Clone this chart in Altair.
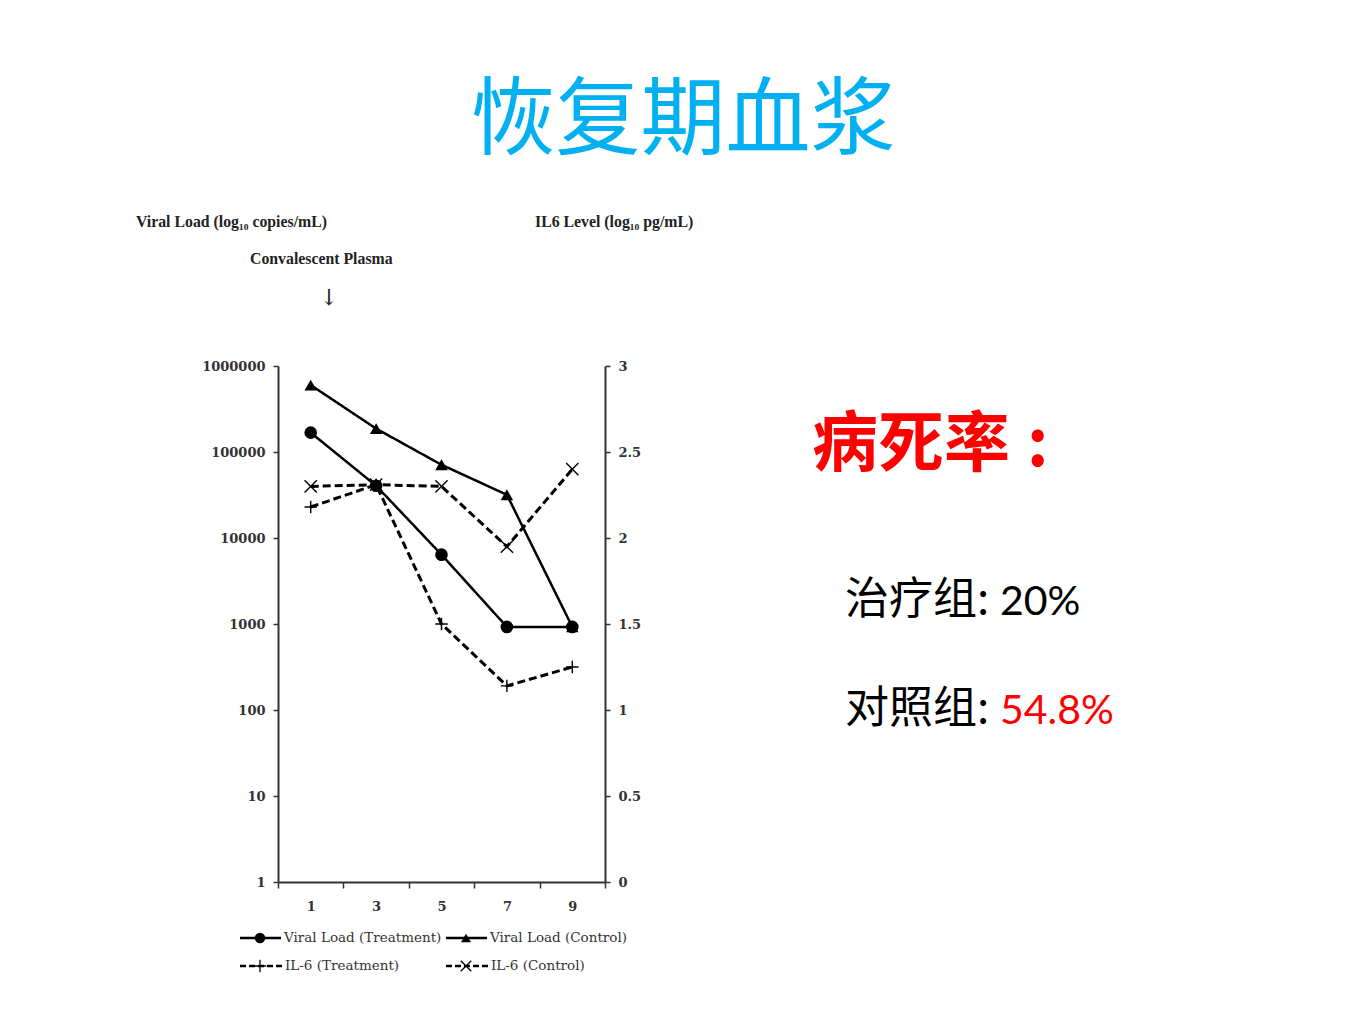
import altair as alt
import pandas as pd

# ---------------- data ----------------
days = [1, 3, 5, 7, 9]
vl_treatment = [168000, 40500, 6400, 925, 925]
vl_control = [600000, 187000, 71000, 31800, 925]
il6_treatment = [2.18, 2.31, 1.50, 1.14, 1.25]
il6_control = [2.30, 2.31, 2.30, 1.95, 2.40]

series_names = ["Viral Load (Treatment)", "Viral Load (Control)",
                "IL-6 (Treatment)", "IL-6 (Control)"]
left_ticks = [1, 10, 100, 1000, 10000, 100000, 1000000]
right_ticks = [0, 0.5, 1, 1.5, 2, 2.5, 3]
x_ticks = [0, 1, 2, 3, 4, 5, 6, 7, 8, 9, 10]

title_text = "恢复期血浆"
left_axis_title = "Viral Load (log₁₀ copies/mL)"
right_axis_title = "IL6 Level (log₁₀ pg/mL)"
event_text = "Convalescent Plasma"
mortality_title = "病死率:"
group_labels = ["治疗组:", "对照组:"]
group_values = ["20%", "54.8%"]

# ---------------- tables ----------------
vl_df = pd.DataFrame({
    "day": days * 2,
    "value": vl_treatment + vl_control,
    "series": [series_names[0]] * 5 + [series_names[1]] * 5,
})
il_df = pd.DataFrame({
    "day": days * 2,
    "value": il6_treatment + il6_control,
    "series": [series_names[2]] * 5 + [series_names[3]] * 5,
})

PLUS = "M-1,0L1,0M0,-1L0,1"
XSYM = "M-1,-1L1,1M-1,1L1,-1"
shape_scale = alt.Scale(domain=series_names,
                        range=["circle", "triangle-up", PLUS, XSYM])
size_scale = alt.Scale(domain=series_names, range=[160, 150, 260, 170])
dash_scale = alt.Scale(domain=series_names,
                       range=[[1, 0], [1, 0], [8, 4], [8, 4]])

AX = "#333333"
x_enc = alt.X("day:Q", scale=alt.Scale(domain=[0, 10], nice=False, zero=False),
              axis=alt.Axis(values=x_ticks, title=None, grid=False,
                            labelExpr="datum.value % 2 == 1 ? datum.label : ''",
                            tickOpacity={"condition": {"test": "datum.value % 2 == 0", "value": 1}, "value": 0},
                            tickSize=6, labelPadding=12))

y_left = alt.Y("value:Q",
               scale=alt.Scale(type="log", domain=[1, 1000000], nice=False),
               axis=alt.Axis(orient="left", values=left_ticks, format="d",
                             title=None, grid=False, tickSize=5, labelPadding=8))
y_right = alt.Y("value:Q",
                scale=alt.Scale(domain=[0, 3], nice=False, zero=True),
                axis=alt.Axis(orient="right", values=right_ticks, format="~g",
                              title=None, grid=False, tickSize=5, labelPadding=8))

vl_base = alt.Chart(vl_df).encode(
    x=x_enc, y=y_left,
    detail="series:N",
)
vl_line = vl_base.mark_line(color="black", strokeWidth=2.5).encode(
    strokeDash=alt.StrokeDash("series:N", scale=dash_scale, legend=None))
vl_pts = vl_base.mark_point(filled=True, color="black", opacity=1).encode(
    shape=alt.Shape("series:N", scale=shape_scale, legend=None),
    size=alt.Size("series:N", scale=size_scale, legend=None))

il_base = alt.Chart(il_df).encode(
    x=x_enc, y=y_right,
    detail="series:N",
)
il_line = il_base.mark_line(color="black", strokeWidth=3).encode(
    strokeDash=alt.StrokeDash("series:N", scale=dash_scale, legend=None))
il_pts = il_base.mark_point(filled=False, color="black", strokeWidth=1.4, opacity=1).encode(
    shape=alt.Shape("series:N", scale=shape_scale, legend=None),
    size=alt.Size("series:N", scale=size_scale, legend=None))

plot = alt.layer(alt.layer(vl_line, vl_pts), alt.layer(il_line, il_pts)).resolve_scale(y="independent")

one = pd.DataFrame({"k": [0]})


def txt(s, x, y, size, font, color="black", weight="normal", align="left"):
    return alt.Chart(pd.DataFrame({"t": [s]})).mark_text(
        align=align, baseline="middle", fontSize=size, font=font,
        color=color, fontWeight=weight
    ).encode(x=alt.value(x), y=alt.value(y), text="t:N")


SERIF = "Liberation Serif"
DSERIF = "DejaVu Serif"
CJK = "Noto Sans CJK SC"
texts = [
    txt(title_text, 405, -244, 85, CJK, color="#00B0F0", align="center"),
    txt(left_axis_title, -142, -144, 15.8, SERIF, color="#222222", weight="bold"),
    txt(right_axis_title, 257, -144, 15.8, SERIF, color="#222222", weight="bold"),
    txt(event_text, -28, -107, 15.8, SERIF, color="#222222", weight="bold"),
    txt("↓", 51, -68, 22, DSERIF, color="#222222", align="center"),
    txt(mortality_title[:-1], 534, 80, 66, CJK, color="#FF0000", weight="bold"),
    txt(mortality_title[-1], 749, 80, 66, CJK, color="#FF0000", weight="bold"),
    txt(group_labels[0], 567, 235, 44, CJK, color="black"),
    txt(group_values[0], 722, 237, 41, "Lato", color="black"),
    txt(group_labels[1], 567, 344, 44, CJK, color="black"),
    txt(group_values[1], 722, 346, 41, "Lato", color="#FF0000"),
]

# manual legend
legend_spec = [
    (series_names[0], -38, 3, -18, 572, "circle", True, 110, [1, 0]),
    (series_names[1], 168, 209, 188, 572, "triangle-up", True, 100, [1, 0]),
    (series_names[2], -38, 4, -18, 600, PLUS, False, 160, [6, 3]),
    (series_names[3], 168, 210, 188, 600, XSYM, False, 110, [6, 3]),
]
legend_layers = []
for name, xa, xb, xm, yy, shp, fil, sz, dash in legend_spec:
    legend_layers.append(
        alt.Chart(one).mark_rule(color="black", strokeWidth=2.5, strokeDash=dash)
        .encode(x=alt.value(xa), x2=alt.value(xb), y=alt.value(yy)))
    legend_layers.append(
        alt.Chart(one).mark_point(shape=shp, filled=fil, size=sz, color="black",
                                  strokeWidth=1.3, opacity=1)
        .encode(x=alt.value(xm), y=alt.value(yy)))
    legend_layers.append(txt(name, xb + 3, yy, 13.5, DSERIF, color="#333333"))

chart = alt.layer(plot, *texts, *legend_layers).properties(
    width=327, height=516,
    autosize=alt.AutoSizeParams(type="none"),
    padding={"left": 270, "top": 358, "right": 740, "bottom": 120},
    background="white",
).configure_view(stroke=None).configure_axis(
    domainColor=AX, domainWidth=2, tickColor=AX, tickWidth=1.5,
    labelFont=DSERIF, labelFontWeight="bold", labelFontSize=13, labelColor="#333333",
)

chart.save("out.html", embed_options={"renderer": "svg", "actions": False})
